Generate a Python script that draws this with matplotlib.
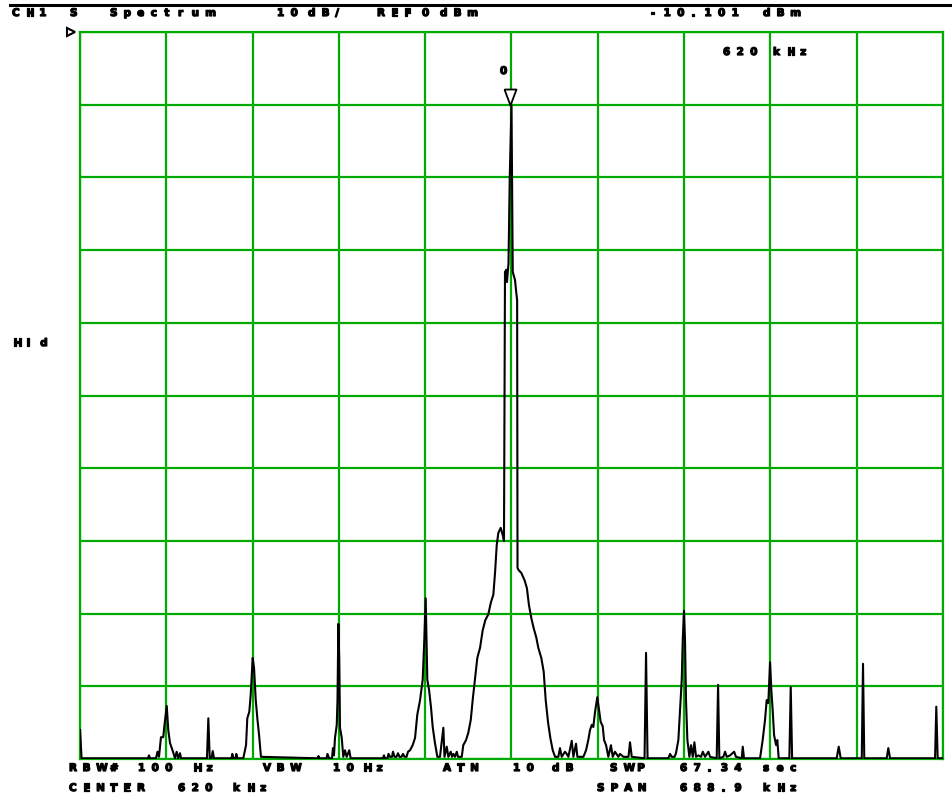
import numpy as np
import matplotlib
matplotlib.use("Agg")
import matplotlib.pyplot as plt
import matplotlib.patheffects as pe

# Analyzer settings
center_khz = 620.0
span_khz = 688.9
ref_dbm = 0.0
db_per_div = 10.0
marker_khz = 620.0
marker_dbm = -10.101

# Trace: frequency (kHz) and level (dBm)
freq_khz = [
    275.6, 276.8, 329.8, 330.6, 331.4, 336.2, 337.4, 338.6, 340.2, 342.0,
    343.0, 344.8, 346.0, 347.4, 349.8, 351.4, 352.7, 354.0, 355.4, 356.2,
    376.9, 378.0, 379.1, 380.5, 381.5, 382.5, 396.5, 397.1, 398.1, 399.7,
    400.3, 401.3, 405.9, 408.1, 409.1, 410.7, 411.8, 413.4, 414.5, 415.8,
    417.1, 418.5, 420.0, 465.1, 465.9, 466.7, 472.3, 473.1, 474.3, 476.7,
    477.5, 478.3, 479.1, 480.5, 481.1, 481.8, 482.5, 483.1, 484.5, 485.7,
    487.1, 488.4, 490.5, 491.6, 517.4, 518.2, 519.0, 521.0, 521.8, 523.0,
    524.6, 525.4, 526.6, 528.2, 529.4, 530.6, 532.2, 533.4, 534.6, 536.2,
    537.4, 539.0, 541.1, 543.0, 544.8, 547.0, 549.1, 550.4, 551.5, 552.8,
    554.2, 555.8, 557.1, 558.9, 560.8, 562.9, 565.6, 566.5, 568.3, 569.6,
    571.5, 572.5, 573.6, 574.9, 576.3, 577.3, 580.3, 581.5, 583.7, 585.5,
    587.5, 589.0, 590.9, 592.7, 594.9, 597.0, 599.1, 601.5, 603.5, 605.5,
    606.9, 608.2, 609.5, 611.4, 613.0, 614.0, 614.8, 615.9, 616.4, 617.6,
    618.6, 620.0, 621.0, 622.8, 623.6, 624.5, 624.8, 625.6, 627.8, 630.4,
    632.3, 633.9, 635.8, 637.7, 639.8, 641.4, 643.8, 645.7, 647.3, 649.2,
    651.0, 652.9, 654.8, 657.4, 658.7, 660.1, 662.7, 664.1, 665.4, 668.1,
    669.4, 671.5, 672.6, 677.4, 679.5, 681.3, 682.7, 684.1, 685.3, 686.7,
    688.5, 690.1, 691.2, 692.8, 693.9, 695.5, 697.3, 699.4, 700.8, 702.6,
    705.3, 706.6, 709.3, 713.4, 714.6, 716.0, 726.2, 727.4, 728.6, 745.2,
    746.6, 747.8, 750.2, 751.3, 753.2, 754.5, 755.9, 756.7, 757.7, 758.5,
    759.3, 760.4, 762.0, 763.3, 764.7, 766.0, 767.3, 769.2, 771.3, 772.7,
    774.5, 777.2, 778.5, 783.8, 784.9, 785.9, 789.1, 790.5, 791.8, 794.5,
    797.7, 799.2, 803.8, 804.6, 805.6, 818.4, 820.5, 822.4, 823.7, 825.0,
    826.4, 827.4, 828.5, 829.6, 831.2, 832.2, 833.3, 841.8, 842.9, 844.0,
    879.6, 881.2, 882.8, 899.6, 900.6, 901.6, 919.5, 920.8, 922.2, 958.1,
    959.1, 960.2, 964.4,
]
level_dbm = [
    -96.0, -99.9, -99.9, -99.5, -99.9, -99.9, -99.0, -99.7, -97.0, -97.0,
    -95.3, -92.7, -96.0, -97.8, -99.0, -99.9, -99.0, -99.9, -99.2, -99.9,
    -99.9, -94.4, -99.9, -99.9, -98.9, -99.9, -99.9, -99.3, -99.9, -99.9,
    -99.3, -99.9, -99.9, -98.1, -94.4, -93.5, -91.2, -86.1, -87.5, -91.8,
    -94.4, -96.7, -99.7, -99.9, -99.6, -99.9, -99.9, -99.3, -99.9, -99.9,
    -98.5, -99.5, -97.1, -95.3, -91.9, -81.4, -86.4, -95.7, -97.1, -99.7,
    -98.8, -99.7, -98.8, -99.9, -99.9, -99.5, -99.9, -99.9, -99.3, -99.7,
    -99.7, -99.0, -99.7, -99.7, -99.2, -99.7, -99.7, -99.3, -99.7, -99.7,
    -99.0, -98.8, -98.1, -97.1, -93.9, -91.9, -89.1, -83.6, -77.9, -89.1,
    -90.5, -93.0, -95.6, -97.8, -99.7, -99.7, -95.7, -99.7, -98.3, -99.7,
    -99.0, -99.7, -99.3, -99.7, -99.0, -99.7, -99.7, -98.1, -97.4, -96.4,
    -94.6, -91.9, -88.9, -86.1, -84.7, -82.3, -80.9, -80.1, -78.5, -77.4,
    -74.3, -70.6, -68.9, -68.2, -69.2, -70.0, -33.0, -32.7, -34.4, -31.8,
    -20.0, -10.1, -33.0, -34.1, -35.5, -36.9, -73.7, -74.0, -74.4, -75.4,
    -76.5, -78.8, -80.6, -82.0, -83.3, -84.7, -86.1, -88.0, -91.9, -95.0,
    -97.1, -98.8, -99.7, -99.7, -98.5, -99.7, -99.0, -99.3, -99.7, -97.5,
    -99.7, -97.9, -99.7, -99.7, -98.8, -97.4, -96.0, -95.3, -95.6, -93.5,
    -91.5, -93.5, -94.9, -95.5, -97.4, -98.1, -99.7, -98.1, -99.7, -99.0,
    -99.7, -99.3, -99.7, -99.7, -97.7, -99.7, -99.9, -85.4, -99.9, -99.9,
    -99.3, -99.7, -99.7, -99.2, -97.4, -93.3, -89.1, -83.6, -79.6, -83.6,
    -91.9, -97.4, -99.7, -98.1, -99.7, -97.7, -99.7, -99.5, -99.7, -99.0,
    -99.7, -99.0, -99.7, -99.9, -89.8, -99.9, -99.7, -99.0, -99.7, -99.5,
    -99.0, -99.7, -99.9, -98.3, -99.9, -99.9, -97.4, -94.6, -91.9, -92.3,
    -86.7, -90.5, -93.3, -96.7, -98.1, -97.4, -99.9, -99.9, -90.1, -99.9,
    -99.9, -98.3, -99.9, -99.9, -86.9, -99.9, -99.9, -98.5, -99.9, -99.9,
    -92.8, -99.9, -99.9,
]

W, H = 953, 799
fig = plt.figure(figsize=(W / 100, H / 100), dpi=100)
ax = fig.add_axes([80 / W, 40 / H, 863 / W, 727 / H])

green = "#00aa00"
start = center_khz - span_khz / 2
stop = center_khz + span_khz / 2
bottom = ref_dbm - 10 * db_per_div

ax.set_xlim(start, stop)
ax.set_ylim(bottom, ref_dbm)
ax.set_xticks(np.linspace(start, stop, 11))
ax.set_yticks(np.linspace(bottom, ref_dbm, 11))
ax.tick_params(length=0, labelbottom=False, labelleft=False)
ax.grid(True, color=green, linewidth=1.6)
for s in ax.spines.values():
    s.set_color(green)
    s.set_linewidth(1.6)

ax.plot(freq_khz, level_dbm, color="black", linewidth=1.5, zorder=3)

# marker triangle on the peak, tip at the marker point
tri = [(-0.375, 1), (0.375, 1), (0, 0), (-0.375, 1)]
ax.plot([marker_khz - 1.2], [marker_dbm], marker=tri, markersize=23,
        markerfacecolor="white", markeredgecolor="black", markeredgewidth=1.3,
        linestyle="none", zorder=4, clip_on=False)

thick = [pe.withStroke(linewidth=0.9, foreground="black")]


def spaced(x, y, word, step=13.6):
    # screen font: heavy glyphs with wide letter spacing
    for i, ch in enumerate(word):
        fig.text((x + i * step) / W, 1 - y / H, ch, fontsize=7.5,
                 fontweight="heavy", family="DejaVu Sans",
                 ha="left", va="center", path_effects=thick)


# header
fig.add_artist(plt.Line2D([10 / W, 1], [1 - 5 / H] * 2, color="black",
                          linewidth=2.2))
header = [(12, "CH1"), (70, "S"), (110, "Spectrum"), (277, "10"),
          (308, "dB/"), (377, "REF"), (422, "0"), (440, "dBm"),
          (650, "-10.101"), (763, "dBm")]
for x, w in header:
    spaced(x, 13, w)

fig.add_artist(plt.Line2D([71 / W], [1 - 31.5 / H], marker=">", markersize=6,
                          markerfacecolor="none", markeredgecolor="black",
                          markeredgewidth=1.5))

spaced(723, 52, "620")
spaced(773, 52, "kHz")
spaced(500, 71, "0")
spaced(13, 343, "Hld")

# footer
footer1 = [(69, "RBW#"), (138, "100"), (193, "Hz"), (263, "VBW"), (333, "10"),
           (363, "Hz"), (443, "ATN"), (513, "10"), (552, "dB"), (610, "SWP"),
           (680, "67.34"), (763, "sec")]
for x, w in footer1:
    spaced(x, 768, w)
footer2 = [(69, "CENTER"), (178, "620"), (233, "kHz"), (597, "SPAN"),
           (680, "688.9"), (763, "kHz")]
for x, w in footer2:
    spaced(x, 788, w)

fig.savefig("out.png", dpi=100)
